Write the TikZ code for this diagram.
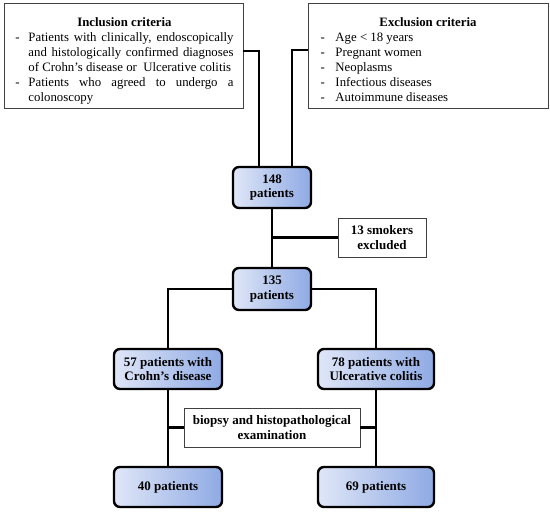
\documentclass[tikz,border=0pt]{standalone}
\usepackage{fontspec}
\setmainfont{Liberation Serif}
\usetikzlibrary{calc}
\definecolor{bl}{HTML}{DFE6F7}
\definecolor{br}{HTML}{8FAAE4}
\tikzset{
  blue box/.style={draw=black, line width=2.4pt, rounded corners=6pt, left color=bl, right color=br,
    align=center, font=\fontsize{13}{14.5}\selectfont\bfseries, inner sep=0pt},
  white box/.style={draw=black!75, line width=0.9pt, fill=white, align=center,
    font=\fontsize{13}{14.5}\selectfont\bfseries, inner sep=0pt},
  crit box/.style={draw=black!75, line width=0.9pt, fill=white, inner sep=0pt,
    minimum width=239pt, minimum height=105pt},
  conn/.style={line width=2.8pt},
}
\begin{document}
\begin{tikzpicture}[x=1pt,y=-1pt]
\useasboundingbox (0,0) rectangle (550,512);
% criteria boxes
\node[crit box] (incl) at (123.5,55.5) {};
\node[anchor=north, inner sep=0pt, align=left, font=\fontsize{12.8}{15}\selectfont] (incltxt) at (124.5,16) {%
  \begin{tabular}{@{}p{13pt}@{}p{205pt}@{}}
  \multicolumn{2}{c}{\bfseries Inclusion criteria}\\
  - & Patients with clinically, endoscopically\linebreak and histologically confirmed diagnoses\linebreak of Crohn's disease or\ \ Ulcerative colitis\\
  - & Patients who agreed to undergo a\linebreak colonoscopy
  \end{tabular}};
\node[crit box, minimum width=240pt] (excl) at (428,55.5) {};
\node[anchor=north, inner sep=0pt, align=left, font=\fontsize{12.8}{15}\selectfont] (excltxt) at (428,16) {%
  \begin{tabular}{@{}p{15pt}@{}p{200pt}@{}}
  \multicolumn{2}{c}{\bfseries Exclusion criteria}\\
  - & Age < 18 years\\
  - & Pregnant women\\
  - & Neoplasms\\
  - & Infectious diseases\\
  - & Autoimmune diseases
  \end{tabular}};
% flow boxes
\node[blue box, minimum width=78pt, minimum height=41pt] (p148) at (272,187.5) {148\\patients};
\node[white box, minimum width=88pt, minimum height=39pt] (smk) at (382,237.5) {13 smokers\\excluded};
\node[blue box, minimum width=78pt, minimum height=42pt] (p135) at (272,289) {135\\patients};
\node[blue box, minimum width=108pt, minimum height=40pt] (cd) at (168,369) {57 patients with\\Crohn's disease};
\node[blue box, minimum width=116pt, minimum height=40pt] (uc) at (376,369) {78 patients with\\Ulcerative colitis};
\node[white box, minimum width=176pt, minimum height=39pt] (bio) at (272,427.5) {biopsy and histopathological\\examination};
\node[blue box, minimum width=108pt, minimum height=40pt] (p40) at (168,487) {40 patients};
\node[blue box, minimum width=116pt, minimum height=40pt] (p69) at (376,487) {69 patients};
% connectors
\coordinate (jsmk) at (272,237.5);
\draw[conn] ([yshift=4.5pt]incl.east) -| ([xshift=-13pt]p148.north);
\draw[conn] ([yshift=5.5pt]excl.west) -| ([xshift=20pt]p148.north);
\draw[conn] (p148.south) -- (p135.north);
\draw[conn] (jsmk) -- (smk.west);
\draw[conn] (p135.west) -| (cd.north);
\draw[conn] (p135.east) -| (uc.north);
\draw[conn] (cd.south) -- (p40.north);
\draw[conn] (uc.south) -- (p69.north);
\draw[conn] (bio.west) -- (bio.west -| cd.south);
\draw[conn] (bio.east) -- (bio.east -| uc.south);
\end{tikzpicture}
\end{document}
